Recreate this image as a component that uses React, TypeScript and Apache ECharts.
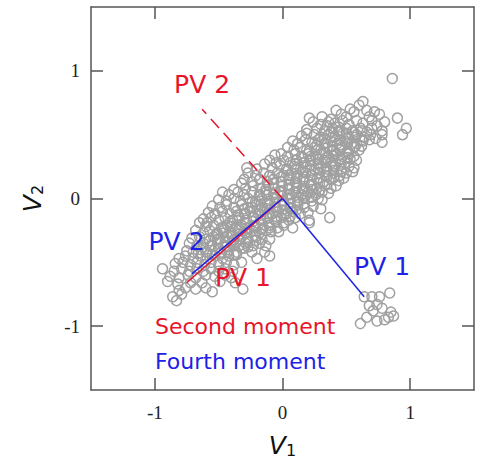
import React, { useEffect, useRef } from "react";
import * as echarts from "echarts";

const tickValues = [-1, 0, 1];
const axisRange = [-1.5, 1.5];

// Main cloud of (v1, v2) samples
const cloudPoints: number[][] = [
  [0.86, 0.94],
  [0.63, 0.76], [0.60, 0.73], [0.53, 0.70],
  [0.21, 0.63], [0.31, 0.64], [0.42, 0.69], [0.46, 0.66], [0.56, 0.68], [0.66, 0.69], [0.72, 0.68], [0.90, 0.63], [0.50, 0.64], [0.38, 0.62], [0.68, 0.64], [0.76, 0.66],
  [0.24, 0.60], [0.30, 0.58], [0.36, 0.60], [0.41, 0.59], [0.47, 0.61], [0.52, 0.58], [0.58, 0.61], [0.63, 0.59], [0.70, 0.61], [0.80, 0.60], [0.74, 0.57], [0.44, 0.56],
  [0.19, 0.54], [0.27, 0.55], [0.33, 0.53], [0.39, 0.55], [0.45, 0.52], [0.50, 0.55], [0.55, 0.53], [0.61, 0.55], [0.66, 0.52], [0.70, 0.55], [0.97, 0.55], [0.78, 0.53], [0.35, 0.57],
  [0.15, 0.49], [0.19, 0.51], [0.25, 0.50], [0.30, 0.48], [0.36, 0.50], [0.41, 0.48], [0.47, 0.51], [0.52, 0.48], [0.58, 0.50], [0.64, 0.48], [0.69, 0.50], [0.78, 0.50], [0.94, 0.50], [0.73, 0.47],
  [0.08, 0.45], [0.12, 0.43], [0.18, 0.46], [0.23, 0.44], [0.28, 0.46], [0.33, 0.43], [0.38, 0.45], [0.43, 0.43], [0.49, 0.45], [0.54, 0.43], [0.58, 0.43], [0.63, 0.45], [0.78, 0.44], [0.68, 0.46],
  [0.04, 0.40], [0.09, 0.38], [0.14, 0.40], [0.19, 0.38], [0.25, 0.40], [0.30, 0.38], [0.35, 0.40], [0.40, 0.38], [0.46, 0.40], [0.51, 0.37], [0.56, 0.40], [0.60, 0.38], [0.62, 0.41],
  [-0.06, 0.34], [-0.01, 0.35], [0.04, 0.33], [0.10, 0.35], [0.15, 0.33], [0.20, 0.35], [0.26, 0.33], [0.31, 0.35], [0.36, 0.33], [0.42, 0.35], [0.47, 0.33], [0.52, 0.35], [0.56, 0.33],
  [-0.10, 0.30], [-0.05, 0.28], [0.01, 0.30], [0.06, 0.28], [0.11, 0.30], [0.17, 0.28], [0.22, 0.30], [0.28, 0.28], [0.33, 0.30], [0.38, 0.28], [0.44, 0.30], [0.49, 0.28], [0.58, 0.30], [0.53, 0.31],
  [-0.28, 0.24], [-0.14, 0.27], [-0.20, 0.23], [-0.08, 0.24], [-0.02, 0.26], [0.03, 0.23], [0.09, 0.25], [0.14, 0.23], [0.19, 0.25], [0.25, 0.23], [0.30, 0.25], [0.35, 0.23], [0.41, 0.25], [0.46, 0.23], [0.52, 0.25], [0.56, 0.24],
  [-0.27, 0.20], [-0.21, 0.18], [-0.15, 0.20], [-0.10, 0.18], [-0.04, 0.20], [0.01, 0.18], [0.07, 0.20], [0.12, 0.18], [0.18, 0.20], [0.23, 0.18], [0.29, 0.20], [0.34, 0.18], [0.40, 0.20], [0.45, 0.18], [0.50, 0.20], [0.55, 0.21],
  [-0.30, 0.15], [-0.24, 0.13], [-0.18, 0.15], [-0.12, 0.13], [-0.07, 0.15], [-0.01, 0.13], [0.05, 0.15], [0.10, 0.13], [0.16, 0.15], [0.21, 0.13], [0.27, 0.15], [0.32, 0.13], [0.38, 0.15], [0.44, 0.14], [0.48, 0.16],
  [-0.32, 0.12], [-0.38, 0.07], [-0.29, 0.08], [-0.23, 0.10], [-0.17, 0.08], [-0.11, 0.10], [-0.06, 0.08], [0.00, 0.10], [0.05, 0.08], [0.11, 0.10], [0.16, 0.08], [0.22, 0.10], [0.27, 0.08], [0.33, 0.10], [0.38, 0.08], [0.42, 0.10],
  [-0.47, 0.05], [-0.42, 0.03], [-0.35, 0.05], [-0.30, 0.03], [-0.24, 0.05], [-0.18, 0.03], [-0.13, 0.05], [-0.07, 0.03], [-0.02, 0.05], [0.04, 0.03], [0.09, 0.05], [0.15, 0.03], [0.20, 0.05], [0.26, 0.03], [0.31, 0.05], [0.36, 0.04],
  [-0.50, -0.01], [-0.44, -0.02], [-0.38, 0.00], [-0.33, -0.02], [-0.27, 0.00], [-0.21, -0.02], [-0.16, 0.00], [-0.10, -0.02], [-0.05, 0.00], [0.01, -0.02], [0.06, 0.00], [0.12, -0.02], [0.17, 0.00], [0.23, -0.02], [0.28, 0.00], [0.31, -0.01],
  [-0.55, -0.06], [-0.49, -0.07], [-0.44, -0.05], [-0.38, -0.07], [-0.32, -0.05], [-0.27, -0.07], [-0.21, -0.05], [-0.16, -0.07], [-0.10, -0.05], [-0.05, -0.07], [0.01, -0.05], [0.06, -0.07], [0.12, -0.05], [0.17, -0.07], [0.24, -0.06], [0.30, -0.08],
  [-0.58, -0.11], [-0.53, -0.12], [-0.47, -0.10], [-0.41, -0.12], [-0.36, -0.10], [-0.30, -0.12], [-0.25, -0.10], [-0.19, -0.12], [-0.14, -0.10], [-0.08, -0.12], [-0.03, -0.10], [0.03, -0.12], [0.08, -0.10], [0.14, -0.12], [0.20, -0.11],
  [-0.62, -0.16], [-0.59, -0.19], [-0.65, -0.19], [-0.56, -0.15], [-0.50, -0.17], [-0.45, -0.15], [-0.39, -0.17], [-0.34, -0.15], [-0.28, -0.17], [-0.23, -0.15], [-0.17, -0.17], [-0.12, -0.15], [-0.06, -0.17], [-0.01, -0.15], [0.05, -0.17], [0.10, -0.15], [0.21, -0.17], [0.37, -0.15],
  [-0.60, -0.22], [-0.54, -0.21], [-0.48, -0.23], [-0.43, -0.21], [-0.37, -0.23], [-0.32, -0.21], [-0.26, -0.23], [-0.21, -0.21], [-0.15, -0.23], [-0.10, -0.21], [-0.04, -0.23], [0.01, -0.21], [0.08, -0.23], [0.21, -0.19],
  [-0.68, -0.25], [-0.62, -0.27], [-0.57, -0.25], [-0.51, -0.27], [-0.46, -0.25], [-0.40, -0.27], [-0.35, -0.25], [-0.29, -0.27], [-0.24, -0.25], [-0.18, -0.27], [-0.13, -0.25], [-0.09, -0.26], [-0.03, -0.26],
  [-0.71, -0.31], [-0.65, -0.30], [-0.60, -0.32], [-0.54, -0.30], [-0.49, -0.32], [-0.43, -0.30], [-0.38, -0.32], [-0.32, -0.30], [-0.27, -0.32], [-0.21, -0.30], [-0.16, -0.32], [-0.10, -0.32],
  [-0.73, -0.35], [-0.67, -0.37], [-0.62, -0.35], [-0.56, -0.37], [-0.51, -0.35], [-0.45, -0.37], [-0.40, -0.35], [-0.34, -0.37], [-0.29, -0.35], [-0.23, -0.37], [-0.18, -0.35], [-0.13, -0.37],
  [-0.75, -0.41], [-0.70, -0.42], [-0.64, -0.40], [-0.59, -0.42], [-0.53, -0.40], [-0.48, -0.42], [-0.42, -0.40], [-0.36, -0.42], [-0.30, -0.39], [-0.14, -0.42], [-0.24, -0.42],
  [-0.81, -0.47], [-0.76, -0.45], [-0.70, -0.47], [-0.64, -0.45], [-0.59, -0.47], [-0.53, -0.45], [-0.47, -0.47], [-0.42, -0.45], [-0.36, -0.44], [-0.20, -0.47], [-0.10, -0.45],
  [-0.84, -0.51], [-0.78, -0.50], [-0.72, -0.52], [-0.67, -0.50], [-0.61, -0.52], [-0.56, -0.50], [-0.50, -0.52], [-0.44, -0.50], [-0.38, -0.52], [-0.32, -0.50],
  [-0.94, -0.55], [-0.85, -0.57], [-0.79, -0.55], [-0.73, -0.57], [-0.67, -0.55], [-0.62, -0.57], [-0.56, -0.55], [-0.50, -0.57], [-0.45, -0.55], [-0.39, -0.57],
  [-0.88, -0.61], [-0.81, -0.62], [-0.74, -0.60], [-0.68, -0.62], [-0.60, -0.60], [-0.53, -0.61], [-0.45, -0.60], [-0.40, -0.62],
  [-0.90, -0.65], [-0.82, -0.67], [-0.72, -0.66], [-0.63, -0.66], [-0.49, -0.65], [-0.37, -0.66],
  [-0.81, -0.72], [-0.76, -0.70], [-0.68, -0.71], [-0.60, -0.70], [-0.31, -0.71], [-0.55, -0.73],
  [-0.86, -0.77], [-0.79, -0.75], [-0.83, -0.80],
];

// Extra samples filling the dense core of the cloud
const corePoints: number[][] = [
  [-0.66, -0.43], [-0.60, -0.42], [-0.55, -0.44], [-0.49, -0.43], [-0.43, -0.42], [-0.38, -0.44],
  [-0.62, -0.38], [-0.56, -0.37], [-0.50, -0.39], [-0.44, -0.38], [-0.38, -0.37], [-0.32, -0.39], [-0.27, -0.38],
  [-0.57, -0.33], [-0.51, -0.32], [-0.45, -0.34], [-0.39, -0.33], [-0.33, -0.32], [-0.27, -0.34], [-0.21, -0.33],
  [-0.52, -0.28], [-0.46, -0.27], [-0.40, -0.29], [-0.34, -0.28], [-0.28, -0.27], [-0.22, -0.29], [-0.16, -0.28],
  [-0.46, -0.23], [-0.40, -0.22], [-0.34, -0.24], [-0.28, -0.23], [-0.22, -0.22], [-0.16, -0.24], [-0.10, -0.23],
  [-0.41, -0.18], [-0.35, -0.17], [-0.29, -0.19], [-0.23, -0.18], [-0.17, -0.17], [-0.11, -0.19], [-0.05, -0.18], [0.01, -0.19],
  [-0.35, -0.13], [-0.29, -0.12], [-0.23, -0.14], [-0.17, -0.13], [-0.11, -0.12], [-0.05, -0.14], [0.01, -0.13], [0.06, -0.14],
  [-0.30, -0.08], [-0.24, -0.07], [-0.18, -0.09], [-0.12, -0.08], [-0.06, -0.07], [0.00, -0.09], [0.06, -0.08], [0.11, -0.09],
  [-0.24, -0.03], [-0.18, -0.02], [-0.12, -0.04], [-0.06, -0.03], [0.00, -0.02], [0.06, -0.04], [0.12, -0.03], [0.17, -0.04],
  [-0.18, 0.02], [-0.12, 0.03], [-0.06, 0.01], [0.00, 0.02], [0.06, 0.03], [0.12, 0.01], [0.18, 0.02], [0.23, 0.01],
  [-0.13, 0.07], [-0.07, 0.08], [-0.01, 0.06], [0.05, 0.07], [0.11, 0.08], [0.17, 0.06], [0.23, 0.07], [0.29, 0.06],
  [-0.07, 0.12], [-0.01, 0.13], [0.05, 0.11], [0.11, 0.12], [0.17, 0.13], [0.23, 0.11], [0.29, 0.12], [0.35, 0.11],
  [-0.01, 0.17], [0.05, 0.18], [0.11, 0.16], [0.17, 0.17], [0.23, 0.18], [0.29, 0.16], [0.35, 0.17], [0.40, 0.16],
  [0.04, 0.22], [0.10, 0.23], [0.16, 0.21], [0.22, 0.22], [0.28, 0.23], [0.34, 0.21], [0.40, 0.22], [0.46, 0.21],
  [0.10, 0.27], [0.16, 0.28], [0.22, 0.26], [0.28, 0.27], [0.34, 0.28], [0.40, 0.26], [0.46, 0.27],
  [0.16, 0.32], [0.22, 0.33], [0.28, 0.31], [0.34, 0.32], [0.40, 0.33], [0.46, 0.31], [0.51, 0.32],
  [0.21, 0.37], [0.27, 0.38], [0.33, 0.36], [0.39, 0.37], [0.45, 0.38], [0.51, 0.36],
  [0.27, 0.42], [0.33, 0.43], [0.39, 0.41], [0.45, 0.42], [0.51, 0.43], [0.57, 0.41],
  [0.33, 0.47], [0.39, 0.48], [0.45, 0.46], [0.51, 0.47], [0.57, 0.48], [0.62, 0.46],
  [0.38, 0.52], [0.44, 0.53], [0.50, 0.51], [0.56, 0.52], [0.62, 0.53],
];

// Separate small cluster at lower right
const clusterPoints: number[][] = [
  [0.64, -0.77], [0.70, -0.77], [0.76, -0.77], [0.84, -0.74], [0.68, -0.84],
  [0.74, -0.83], [0.78, -0.86], [0.85, -0.89], [0.83, -0.93], [0.80, -0.95],
  [0.74, -0.96], [0.66, -0.93], [0.61, -0.98], [0.87, -0.92], [0.71, -0.88],
];

// Principal vectors (end points, starting at origin)
const secondPV1 = [-0.75, -0.66];
const secondPV2 = [-0.63, 0.7];
const fourthPV1 = [0.64, -0.77];
const fourthPV2 = [-0.71, -0.59];

// Label anchor points (data coordinates of label centres)
const labelSecondPV2 = [-0.63, 0.89];
const labelSecondPV1 = [-0.31, -0.62];
const labelFourthPV2 = [-0.83, -0.34];
const labelFourthPV1 = [0.78, -0.53];

const RED = "#e8142b";
const BLUE = "#1e22e6";
const GREY = "#a0a0a0";
const AXIS = "#555555";

function vecSeries(end: number[], color: string, dashed: boolean, z: number) {
  return {
    type: "line",
    data: [[0, 0], end],
    symbol: "none",
    silent: true,
    z,
    lineStyle: { color, width: 1.5, type: dashed ? [12, 7] : "solid" },
  };
}

export default function App() {
  const ref = useRef<HTMLDivElement>(null);
  useEffect(() => {
    if (!ref.current) return;
    const chart = echarts.init(ref.current, undefined, { renderer: "svg" });
    const axisCommon = {
      type: "value",
      min: axisRange[0],
      max: axisRange[1],
      splitLine: { show: false },
      axisLine: { show: true, onZero: false, lineStyle: { color: AXIS, width: 1.5 } },
      axisTick: { show: true, inside: true, length: 12, customValues: tickValues, lineStyle: { color: AXIS, width: 1.5 } },
    };
    const tickLabel = {
      show: true,
      customValues: tickValues,
      fontFamily: "Liberation Serif",
      fontSize: 19,
      color: "#222",
    };
    const nameRich = {
      v: { fontFamily: "DejaVu Sans", fontStyle: "italic", fontSize: 25, color: "#111", lineHeight: 26 },
      s: { fontFamily: "DejaVu Sans", fontSize: 16, color: "#111", lineHeight: 26, verticalAlign: "bottom" },
    };
    chart.setOption({
      animation: false,
      grid: { left: 91, right: 11, top: 7, bottom: 69, containLabel: false, outerBoundsMode: "none" },
      xAxis: [
        {
          ...axisCommon,
          position: "bottom",
          axisLabel: { ...tickLabel, margin: 13 },
          name: "{v|V}{s|1}",
          nameLocation: "middle",
          nameGap: 42,
          nameTextStyle: { rich: nameRich },
        },
        { ...axisCommon, position: "top", axisLabel: { show: false } },
      ],
      yAxis: [
        {
          ...axisCommon,
          position: "left",
          axisLabel: { ...tickLabel, margin: 11 },
          name: "{v|V}{s|2}",
          nameLocation: "middle",
          nameGap: 46,
          nameTextStyle: { rich: nameRich },
        },
        { ...axisCommon, position: "right", axisLabel: { show: false } },
      ],
      series: [
        {
          type: "scatter",
          data: cloudPoints.concat(corePoints, clusterPoints),
          symbol: "circle",
          symbolSize: 10,
          silent: true,
          z: 2,
          itemStyle: { color: "rgba(0,0,0,0)", borderColor: GREY, borderWidth: 1.5, opacity: 1 },
        },
        vecSeries(secondPV2, RED, true, 3),
        vecSeries(secondPV1, RED, false, 3),
        vecSeries(fourthPV1, BLUE, false, 4),
        vecSeries(fourthPV2, BLUE, false, 4),
      ],
    });

    const pvLabel = (pos: number[], text: string, color: string) => {
      const p = chart.convertToPixel({ gridIndex: 0 }, pos) as number[];
      return {
        type: "text",
        x: p[0],
        y: p[1],
        z: 10,
        style: {
          text,
          fill: color,
          font: '25px "DejaVu Sans"',
          align: "center",
          verticalAlign: "middle",
        },
      };
    };

    chart.setOption({
      graphic: [
        pvLabel(labelSecondPV2, "PV 2", RED),
        pvLabel(labelSecondPV1, "PV 1", RED),
        pvLabel(labelFourthPV2, "PV 2", BLUE),
        pvLabel(labelFourthPV1, "PV 1", BLUE),
        {
          type: "text",
          left: 155,
          top: 315,
          z: 10,
          style: { text: "Second moment", fill: RED, font: '22px "DejaVu Sans"' },
        },
        {
          type: "text",
          left: 155,
          top: 350,
          z: 10,
          style: { text: "Fourth moment", fill: BLUE, font: '22px "DejaVu Sans"' },
        },
      ],
    });
    return () => chart.dispose();
  }, []);
  return <div ref={ref} style={{ position: "absolute", left: 0, top: 0, width: 485, height: 459 }} />;
}
